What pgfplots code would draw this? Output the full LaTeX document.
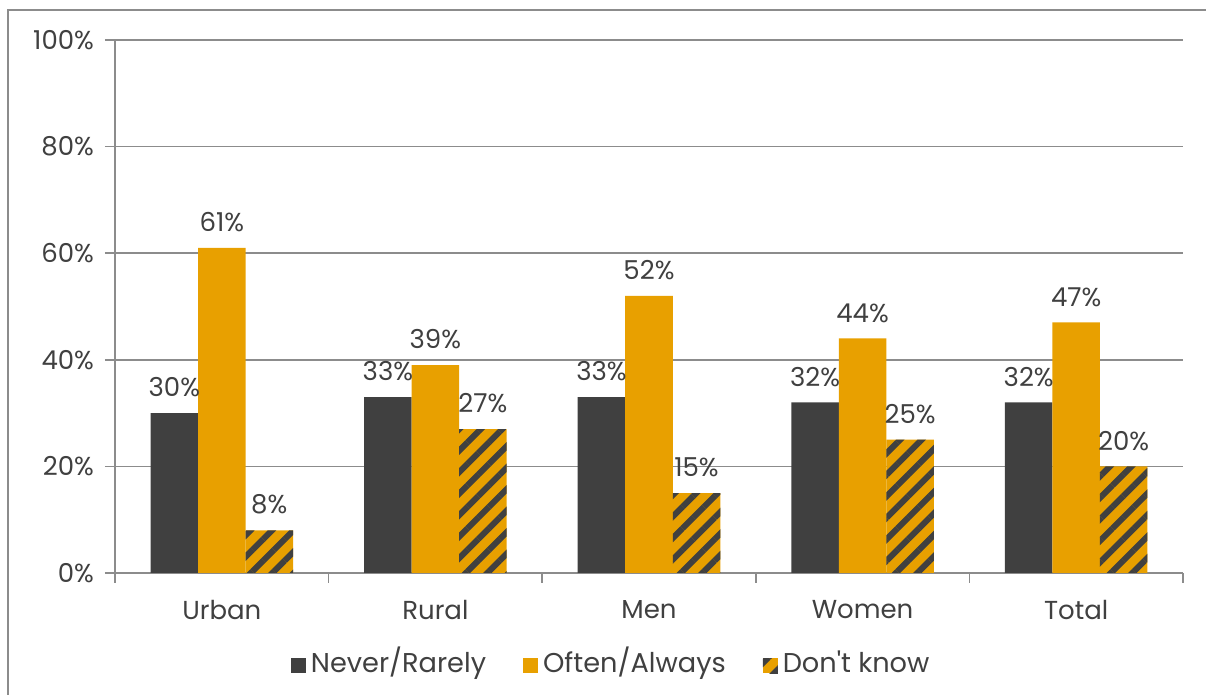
\documentclass[border=0pt]{standalone}
\usepackage{pgfplots}
\pgfplotsset{compat=1.18}
\usepackage{fontspec}
\setmainfont{Poppins}
\newfontfamily\plainfont{Poppins}
\usetikzlibrary{patterns.meta}
\definecolor{darkc}{HTML}{404040}
\definecolor{orangec}{HTML}{E8A000}
\definecolor{gridc}{HTML}{8C8C8C}
\definecolor{textc}{HTML}{404040}
\begin{document}
\begin{tikzpicture}[font=\fontsize{13}{15}\selectfont, text=textc]
\useasboundingbox (-57.5pt,-61pt) rectangle (545.5pt,286.5pt);
\draw[gridc, line width=0.8pt] (-53.5pt,-62pt) -- (-53.5pt,281.5pt) -- (546pt,281.5pt);
\begin{axis}[
  at={(0,0)}, anchor=south west,
  scale only axis, width=534pt, height=266.5pt,
  xmin=-0.5, xmax=4.5, ymin=0, ymax=100,
  ybar=0pt, bar width=23.75pt,
  axis lines*=left,
  axis line style={gridc, line width=0.8pt},
  tick align=outside,
  xtick={0,1,2,3,4},
  xticklabels={Urban,Rural,Men,Women,Total},
  minor xtick={-0.5,0.5,1.5,2.5,3.5,4.5},
  major x tick style={draw=none},
  minor x tick style={gridc, line width=0.8pt},
  minor tick length=5pt,
  major tick length=5pt,
  ytick={0,20,40,60,80,100},
  y tick style={gridc, line width=0.8pt},
  yticklabel={\pgfmathprintnumber{\tick}\%},
  /pgf/number format/assume math mode=true,
  ymajorgrids, grid style={gridc, line width=0.8pt},
  xticklabel style={yshift=-5pt},
  yticklabel style={xshift=-2pt},
  nodes near coords={\pgfmathprintnumber{\pgfplotspointmeta}\%},
  nodes near coords style={font=\fontsize{13}{15}\selectfont, text=textc, yshift=4.5pt},
  legend style={at={(0.466,-0.176)}, anchor=center, draw=none, fill=none, legend columns=3,
    /tikz/every even column/.append style={column sep=16pt},
    nodes={text height=1.4ex, text depth=0.3ex, inner xsep=2.5pt},
    font=\fontsize{13.6}{16}\selectfont, text=textc},
  legend image code/.code={\draw[#1,draw=none] (0pt,-3.25pt) rectangle (7.5pt,4.25pt);},
]
\addplot[fill=darkc, draw=none] coordinates {(0,30) (1,33) (2,33) (3,32) (4,32)};
\addplot[fill=orangec, draw=none] coordinates {(0,61) (1,39) (2,52) (3,44) (4,47)};
\addplot[draw=none, preaction={fill=orangec}, pattern={Lines[angle=45,distance=7.6pt,line width=3pt]}, pattern color=darkc] coordinates {(0,8) (1,27) (2,15) (3,25) (4,20)};
\legend{Never/Rarely,Often/Always,{\plainfont Don't know}}
\end{axis}
\end{tikzpicture}
\end{document}
